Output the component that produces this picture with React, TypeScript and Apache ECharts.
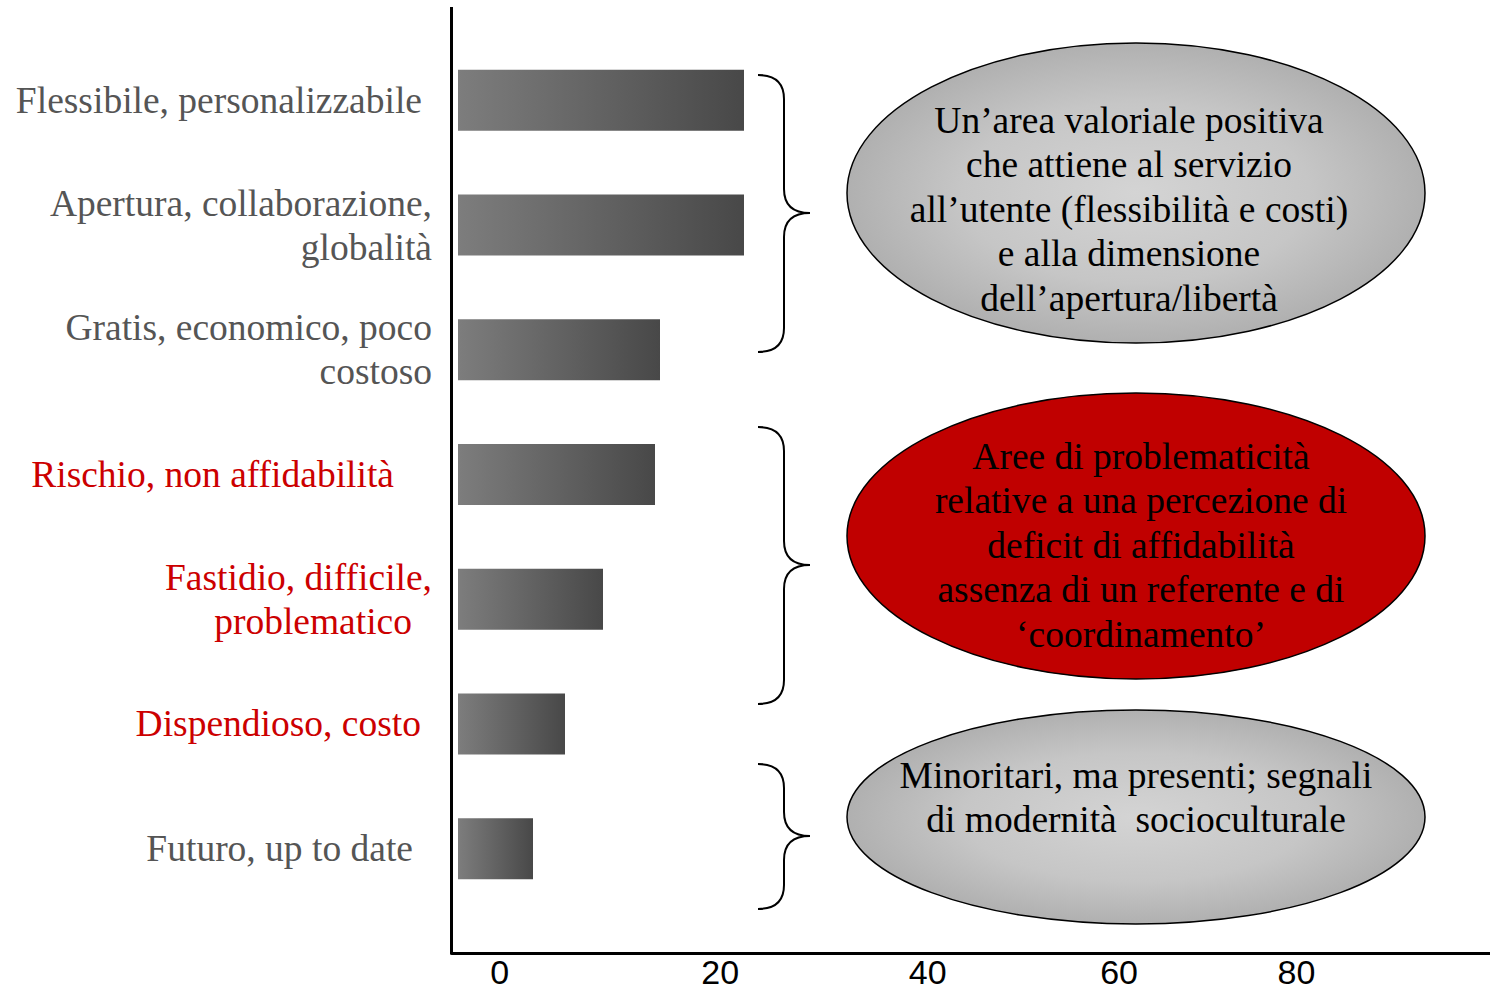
import React, { useEffect, useRef } from 'react';
import * as echarts from 'echarts';

// ---------- data ----------
const CATEGORIES = [
  'Flessibile, personalizzabile',
  'Apertura, collaborazione,\nglobalità',
  'Gratis, economico, poco\ncostoso',
  'Rischio, non affidabilità',
  'Fastidio, difficile,\nproblematico',
  'Dispendioso, costo',
  'Futuro, up to date',
];
const VALUES = [28.6, 28.6, 20.2, 19.7, 14.5, 10.7, 7.5];
const CATEGORY_GROUP = ['positive', 'positive', 'positive', 'negative', 'negative', 'negative', 'positive'];
const X_TICKS = [0, 20, 40, 60, 80];

const NOTE_POSITIVE = [
  'Un’area valoriale positiva',
  'che attiene al servizio',
  'all’utente (flessibilità e costi)',
  'e alla dimensione',
  'dell’apertura/libertà',
];
const NOTE_PROBLEMS = [
  'Aree di problematicità',
  'relative a una percezione di',
  'deficit di affidabilità',
  'assenza di un referente e di',
  '‘coordinamento’',
];
const NOTE_MINOR = ['Minoritari, ma presenti; segnali', 'di modernità  socioculturale'];

// ---------- styles ----------
const SERIF = "'Liberation Serif', 'Times New Roman', serif";
const SANS = "'Liberation Sans', Arial, sans-serif";
const GROUP_COLOR: Record<string, string> = { positive: '#555555', negative: '#cc0000' };
const LABEL_RIGHT_PAD = [[10], [0, 0], [0, 0], [38], [0, 20], [11], [19]];
const TICK_PAD: Record<number, number[]> = {
  0: [0, 28, 0, 0],
  20: [0, 0, 0, 14],
  40: [0, 0, 0, 30],
  60: [0, 0, 0, 14],
  80: [0, 30, 0, 0],
};

function buildYRich() {
  const rich: Record<string, any> = {};
  CATEGORIES.forEach((c, i) => {
    c.split('\n').forEach((_, li) => {
      rich[`c${i}l${li}`] = {
        color: GROUP_COLOR[CATEGORY_GROUP[i]],
        fontFamily: SERIF,
        fontSize: 37.5,
        lineHeight: 44,
        padding: [0, (LABEL_RIGHT_PAD[i] && LABEL_RIGHT_PAD[i][li]) || 0, 0, 0],
      };
    });
  });
  return rich;
}

function buildXRich() {
  const rich: Record<string, any> = {};
  X_TICKS.forEach((t) => {
    rich[`t${t}`] = {
      color: '#000',
      fontFamily: SANS,
      fontSize: 34,
      lineHeight: 30,
      padding: TICK_PAD[t] || [0, 0, 0, 0],
    };
  });
  return rich;
}

function brace(top: number, tip: number, bottom: number) {
  const xa = 758, xb = 784, xc = 810, r = 24;
  const s = { stroke: '#000', lineWidth: 2, fill: 'none' };
  return {
    type: 'group',
    children: [
      { type: 'bezierCurve', shape: { x1: xa, y1: top, cpx1: xa + 17, cpy1: top, cpx2: xb, cpy2: top + 8, x2: xb, y2: top + r }, style: s },
      { type: 'line', shape: { x1: xb, y1: top + r, x2: xb, y2: tip - r }, style: s },
      { type: 'bezierCurve', shape: { x1: xb, y1: tip - r, cpx1: xb, cpy1: tip - 8, cpx2: xc - 17, cpy2: tip, x2: xc, y2: tip }, style: s },
      { type: 'bezierCurve', shape: { x1: xc, y1: tip, cpx1: xc - 17, cpy1: tip, cpx2: xb, cpy2: tip + 8, x2: xb, y2: tip + r }, style: s },
      { type: 'line', shape: { x1: xb, y1: tip + r, x2: xb, y2: bottom - r }, style: s },
      { type: 'bezierCurve', shape: { x1: xb, y1: bottom - r, cpx1: xb, cpy1: bottom - 8, cpx2: xa + 17, cpy2: bottom, x2: xa, y2: bottom }, style: s },
    ],
  };
}

function greyFill() {
  return new echarts.graphic.RadialGradient(0.5, 0.5, 0.5, [
    { offset: 0, color: '#d4d4d4' },
    { offset: 0.6, color: '#c6c6c6' },
    { offset: 1, color: '#b0b0b0' },
  ]);
}

function note(lines: string[], x: number, y: number) {
  return {
    type: 'text',
    x,
    y,
    z: 10,
    style: {
      text: lines.join('\n'),
      fill: '#000',
      fontFamily: SERIF,
      fontSize: 37.5,
      lineHeight: 44.5,
      align: 'center',
      textAlign: 'center',
      verticalAlign: 'middle',
      textVerticalAlign: 'middle',
    },
  };
}

function ellipse(cx: number, cy: number, rx: number, ry: number, fill: any) {
  return {
    type: 'ellipse',
    shape: { cx, cy, rx, ry },
    z: 5,
    style: { fill, stroke: '#000', lineWidth: 1.5 },
  };
}

export default function App() {
  const ref = useRef<HTMLDivElement>(null);
  useEffect(() => {
    const chart = echarts.init(ref.current!, null, { renderer: 'svg' });
    const option: any = {
      animation: false,
      backgroundColor: '#ffffff',
      grid: { left: 452, right: 0, top: 38, height: 873, containLabel: false },
      xAxis: [
        {
          type: 'value',
          min: -0.6,
          max: 103.2,
          offset: 42,
          axisLine: { show: true, lineStyle: { color: '#000', width: 3 } },
          axisTick: { show: false },
          axisLabel: { show: false },
          splitLine: { show: false },
        },
        {
          type: 'value',
          position: 'bottom',
          min: -6.2,
          max: 97.9,
          offset: 42,
          axisLine: { show: false },
          axisTick: { show: false },
          splitLine: { show: false },
          axisLabel: {
            show: true,
            margin: 4,
            lineHeight: 30,
            customValues: X_TICKS,
            formatter: (v: number) => `{t${v}|${v}}`,
            rich: buildXRich(),
          },
        },
      ],
      yAxis: {
        type: 'category',
        inverse: true,
        data: CATEGORIES,
        axisLine: { show: false },
        axisTick: { show: false },
        splitLine: { show: false },
        axisLabel: {
          margin: 20,
          interval: 0,
          fontFamily: SERIF,
          fontSize: 37.5,
          lineHeight: 44,
          formatter: (value: string, index: number) =>
            value
              .split('\n')
              .map((line, li) => `{c${index}l${li}|${line}}`)
              .join('\n'),
          rich: buildYRich(),
        },
      },
      series: [
        {
          type: 'bar',
          xAxisIndex: 0,
          yAxisIndex: 0,
          data: VALUES,
          barWidth: 61,
          silent: true,
          itemStyle: {
            color: new echarts.graphic.LinearGradient(0, 0, 1, 0, [
              { offset: 0, color: '#7d7d7d' },
              { offset: 1, color: '#484848' },
            ]),
          },
        },
      ],
      graphic: [
        { type: 'line', shape: { x1: 451.5, y1: 7, x2: 451.5, y2: 954.5 }, style: { stroke: '#000', lineWidth: 3 }, z: 20 },
        brace(75, 213, 352),
        brace(427, 565, 704),
        brace(764, 836, 909),
        ellipse(1136, 193, 289, 150, greyFill()),
        ellipse(1136, 536, 289, 143, '#c00000'),
        ellipse(1136, 817, 289, 107, greyFill()),
        note(NOTE_POSITIVE, 1129, 209),
        note(NOTE_PROBLEMS, 1141, 545),
        note(NOTE_MINOR, 1136, 797.5),
      ],
    };
    chart.setOption(option);
    return () => chart.dispose();
  }, []);
  return (
    <div
      ref={ref}
      style={{ position: 'fixed', left: 0, top: 0, width: 1490, height: 994, background: '#fff' }}
    />
  );
}
